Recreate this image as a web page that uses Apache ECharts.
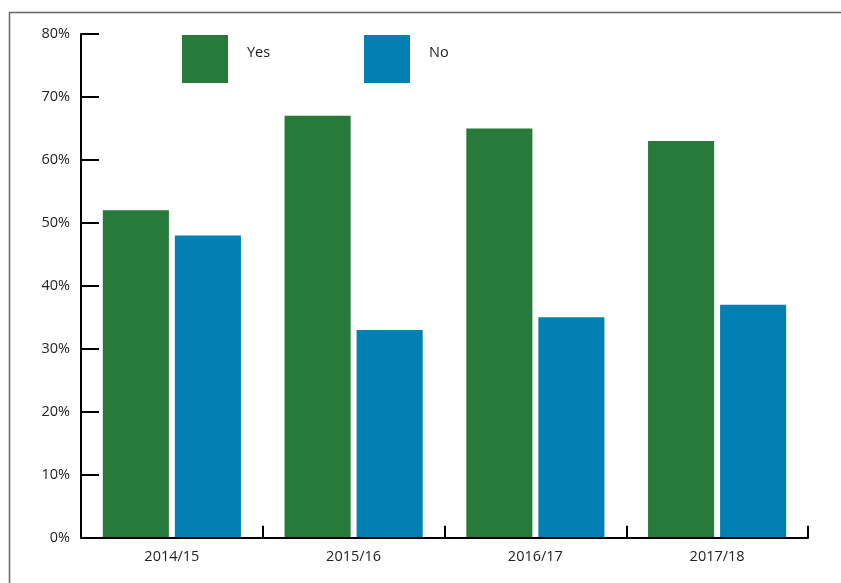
<!DOCTYPE html>
<html>
<head>
<meta charset="utf-8">
<script src="https://cdn.jsdelivr.net/npm/echarts@6/dist/echarts.min.js"></script>
<style>html,body{margin:0;padding:0;background:#fff}#c{width:841px;height:583px}</style>
</head>
<body>
<div id="c"></div>
<script>
const categories = ['2014/15', '2015/16', '2016/17', '2017/18'];
const yesValues = [52, 67, 65, 63];
const noValues = [48, 33, 35, 37];
const seriesNames = ['Yes', 'No'];

const chart = echarts.init(document.getElementById('c'), null, {renderer: 'canvas'});
const font = '"Open Sans", "Noto Sans", sans-serif';
const legendText = {
  fontFamily: font, fontSize: 14.5, color: '#222',
  rich: {t: {fontFamily: font, fontSize: 14.5, color: '#222', padding: [0, 0, 13, 14]}}
};
chart.setOption({
  animation: false,
  graphic: [
    {type: 'polyline', shape: {points: [[9.5, 600], [9.5, 12.5], [860, 12.5]]}, style: {stroke: '#666', lineWidth: 1.5, fill: null}, silent: true}
  ],
  legend: [
    {data: [seriesNames[0]], left: 182, top: 35, icon: 'rect', itemWidth: 46, itemHeight: 48, padding: 0, textStyle: legendText, formatter: '{t|{name}}', selectedMode: false},
    {data: [seriesNames[1]], left: 364, top: 35, icon: 'rect', itemWidth: 46, itemHeight: 48, padding: 0, textStyle: legendText, formatter: '{t|{name}}', selectedMode: false}
  ],
  grid: {left: 81, right: 33, top: 34, bottom: 45.3, containLabel: false},
  xAxis: {
    type: 'category', data: categories, z: 5,
    axisLine: {lineStyle: {color: '#000', width: 2}},
    axisTick: {show: true, inside: true, length: 12, lineStyle: {color: '#000', width: 2}},
    axisLabel: {fontFamily: font, fontSize: 14.5, color: '#222', margin: 12}
  },
  yAxis: {
    type: 'value', min: 0, max: 80, interval: 10,
    axisLine: {show: true, lineStyle: {color: '#000', width: 2}},
    axisTick: {show: true, inside: true, length: 18, lineStyle: {color: '#000', width: 2}},
    splitLine: {show: false},
    axisLabel: {fontFamily: font, fontSize: 14.5, color: '#222', margin: 11, formatter: '{value}%'}
  },
  series: [
    {name: seriesNames[0], type: 'bar', data: yesValues, itemStyle: {color: '#287a3b'}, barGap: '9%', barCategoryGap: '24%'},
    {name: seriesNames[1], type: 'bar', data: noValues, itemStyle: {color: '#0380b3'}, barGap: '9%', barCategoryGap: '24%'}
  ]
});
</script>
</body>
</html>
